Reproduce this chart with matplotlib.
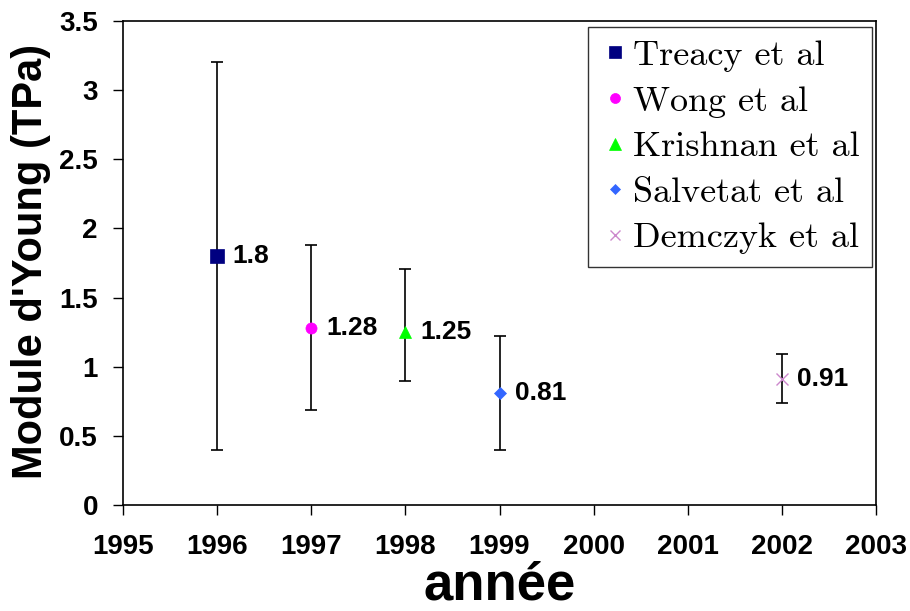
import numpy as np
import matplotlib
matplotlib.use("Agg")
import matplotlib.pyplot as plt

# donnees
auteurs = ["Treacy et al", "Wong et al", "Krishnan et al", "Salvetat et al", "Demczyk et al"]
annees = [1996, 1997, 1998, 1999, 2002]
module = [1.8, 1.28, 1.25, 0.81, 0.91]
err_bas = [0.4, 0.69, 0.90, 0.40, 0.74]
err_haut = [3.2, 1.88, 1.71, 1.22, 1.09]
etiquettes = ["1.8", "1.28", "1.25", "0.81", "0.91"]

marqueurs = ["s", "o", "^", "D", "x"]
couleurs = ["#000080", "#ff00ff", "#00ff00", "#3366ff", "#cc88cc"]
tailles = [10, 8, 9, 6, 8]

plt.rcParams['font.family'] = ['Liberation Sans', 'DejaVu Sans']

fig = plt.figure(figsize=(9.1, 6.11), dpi=100)
ax = fig.add_axes([123/910, 1-505/611, (876-123)/910, (505-21)/611])

for i in range(len(auteurs)):
    x = annees[i]
    y = module[i]
    ax.errorbar([x], [y], yerr=[[y-err_bas[i]], [err_haut[i]-y]], fmt="none",
                ecolor="black", elinewidth=1.2, capsize=4, capthick=1.2, zorder=2)
    ax.plot([x], [y], marker=marqueurs[i], color=couleurs[i], markersize=tailles[i],
            linestyle="none", label=auteurs[i], zorder=3,
            markeredgewidth=1 if marqueurs[i] == "x" else 0.5)
    ax.annotate(etiquettes[i], (x, y), xytext=(11, 0), textcoords="offset points",
                va="center", ha="left", fontsize=19, fontweight="bold")

ax.set_xlim(1995, 2003)
ax.set_ylim(0, 3.5)
ax.set_xticks(np.arange(1995, 2004, 1))
ax.set_yticks(np.arange(0, 3.51, 0.5))
ax.set_yticklabels(["0", "0.5", "1", "1.5", "2", "2.5", "3", "3.5"])
ax.tick_params(direction="out", length=7, width=1, labelsize=20)
ax.tick_params(axis="x", pad=14)
ax.tick_params(axis="y", pad=11)
for lab in ax.get_xticklabels() + ax.get_yticklabels():
    lab.set_fontweight("bold")
for s in ax.spines.values():
    s.set_linewidth(1.2)

ax.set_xlabel("année", fontsize=38, fontweight="bold")
ax.set_ylabel("Module d'Young (TPa)", fontsize=30, fontweight="bold")
ax.xaxis.set_label_coords(0.5, -0.115)
ax.yaxis.set_label_coords(-0.095, 0.504)

leg = ax.legend(loc="upper right", bbox_to_anchor=(0.9947, 0.9876),
                prop={"family": "cmr10", "size": 26},
                frameon=True, fancybox=False, edgecolor="black",
                handletextpad=0.1, handlelength=0.8, borderpad=0.35,
                labelspacing=0.37, borderaxespad=0.0, markerscale=0.9)
leg.get_frame().set_linewidth(1.0)

fig.savefig("out.png", dpi=100)
